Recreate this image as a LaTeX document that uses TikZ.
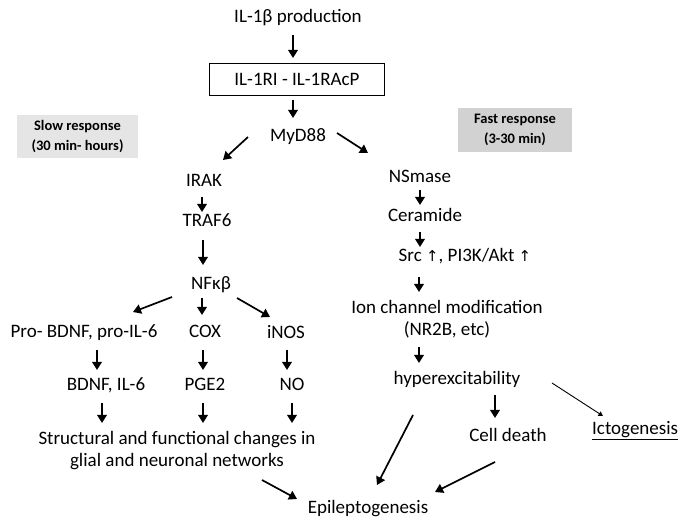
\documentclass[tikz,border=0pt]{standalone}
\usepackage{fontspec}
\setmainfont{Carlito}
\newfontfamily\symf{DejaVu Sans}
\usetikzlibrary{arrows.meta,calc}
\begin{document}
\begin{tikzpicture}[x=1pt,y=-1pt,
  lbl/.style={inner sep=0pt, font=\fontsize{19}{22}\selectfont, text height=13.5pt, text depth=4pt},
  mlbl/.style={inner sep=0pt, font=\fontsize{19}{22}\selectfont, align=center},
  arr/.style={line width=1.7pt, -{Triangle[length=8pt,width=9.5pt]}},
  thinarr/.style={line width=0.9pt, -{Triangle[length=4.5pt,width=5pt]}},
  gbox/.style={inner sep=0pt, font=\bfseries\fontsize{14.5}{20}\selectfont, align=center, minimum width=121pt, minimum height=43pt}
]
\useasboundingbox[fill=white] (0,0) rectangle (678,518);

% top
\node[lbl] (prod) at (298,18) {IL-1β production};
\node[draw, line width=0.9pt, minimum width=175pt, minimum height=32pt, inner sep=0pt, font=\fontsize{19}{22}\selectfont] (rcpt) at (297,79) {IL-1RI - IL-1RAcP};
\node[lbl] (myd) at (298,137) {MyD88};

% response boxes
\node[gbox, fill=gray!20] (slow) at (77.5,136.5) {Slow response\\(30 min- hours)};
\node[gbox, fill=gray!35, minimum width=114pt, minimum height=44pt] (fast) at (515,130) {Fast response\\(3-30 min)};

% slow branch
\node[lbl] (irak) at (204,182) {IRAK};
\node[lbl] (traf) at (207,222) {TRAF6};
\node[lbl] (nfkb) at (211,285) {NFκβ};
\node[lbl] (prob) at (84,333) {Pro- BDNF, pro-IL-6};
\node[lbl] (cox) at (205,333) {COX};
\node[lbl] (inos) at (286,334) {iNOS};
\node[lbl] (bdnf) at (106,386) {BDNF, IL-6};
\node[lbl] (pge) at (205,386) {PGE2};
\node[lbl] (no) at (292,386) {NO};
\node[mlbl] (struct) at (177,451) {Structural and functional changes in\\glial and neuronal networks};
\node[lbl] (epi) at (368,509) {Epileptogenesis};

% fast branch
\node[lbl] (nsm) at (420,178) {NSmase};
\node[lbl] (cer) at (425,217) {Ceramide};
\node[lbl] (src) at (465,257) {Src {\symf\fontsize{15}{18}\selectfont ↑}, PI3K/Akt {\symf\fontsize{15}{18}\selectfont ↑}};
\node[mlbl] (ion) at (447,319) {Ion channel modification\\(NR2B, etc)};
\node[lbl] (hyp) at (457,380) {hyperexcitability};
\node[lbl] (cell) at (508,437) {Cell death};
\node[lbl, anchor=west] (icto) at (592,430) {\underline{Ictogenesis}};

% arrows
\draw[arr] ($(prod)+(-5,17)$) -- ($(rcpt)+(-4,-21)$);
\draw[arr] ($(rcpt)+(-4,21)$) -- ($(myd)+(-5,-19)$);
\draw[arr] ($(myd)+(-50,0)$) -- ($(irak)+(19,-22)$);
\draw[arr] ($(myd)+(39,-4)$) -- ($(nsm)+(-52,-25)$);
\draw[arr] ($(irak)+(-2,15)$) -- ($(traf)+(-5,-10)$);
\draw[arr] ($(traf)+(-4,18)$) -- ($(nfkb)+(-8,-20)$);
\draw[arr] ($(nfkb)+(-39,12)$) -- ($(prob)+(49,-21)$);
\draw[arr] ($(nfkb)+(-9,13)$) -- ($(cox)+(-3,-18)$);
\draw[arr] ($(nfkb)+(26,13)$) -- ($(inos)+(-16,-17)$);
\draw[arr] ($(prob)+(13,17)$) -- ($(bdnf)+(-9,-16)$);
\draw[arr] ($(cox)+(-2,17)$) -- ($(pge)+(-2,-16)$);
\draw[arr] ($(inos)+(1,16)$) -- ($(no)+(-5,-16)$);
\draw[arr] ($(bdnf)+(-4,17)$) -- ($(struct)+(-75,-28)$);
\draw[arr] ($(pge)+(-2,17)$) -- ($(struct)+(26,-28)$);
\draw[arr] ($(no)+(0,17)$) -- ($(struct)+(115,-28)$);
\draw[arr] ($(struct)+(85,29)$) -- ($(epi)+(-71,-10)$);

\draw[arr] ($(nsm)+(0,12)$) -- ($(cer)+(-5,-12)$);
\draw[arr] ($(cer)+(-5,15)$) -- ($(src)+(-45,-10)$);
\draw[arr] ($(src)+(-46,20)$) -- ($(ion)+(-28,-27)$);
\draw[arr] ($(ion)+(-28,28)$) -- ($(hyp)+(-38,-17)$);
\draw[arr] ($(hyp)+(38,15)$) -- ($(cell)+(-13,-19)$);
\draw[thinarr] ($(hyp)+(95,3)$) -- ($(icto.west)+(11,-14)$);
\draw[arr] ($(hyp)+(-44,35)$) -- ($(epi)+(9,-24)$);
\draw[arr] ($(cell)+(-13,25)$) -- ($(epi)+(67,-17)$);
\end{tikzpicture}
\end{document}
